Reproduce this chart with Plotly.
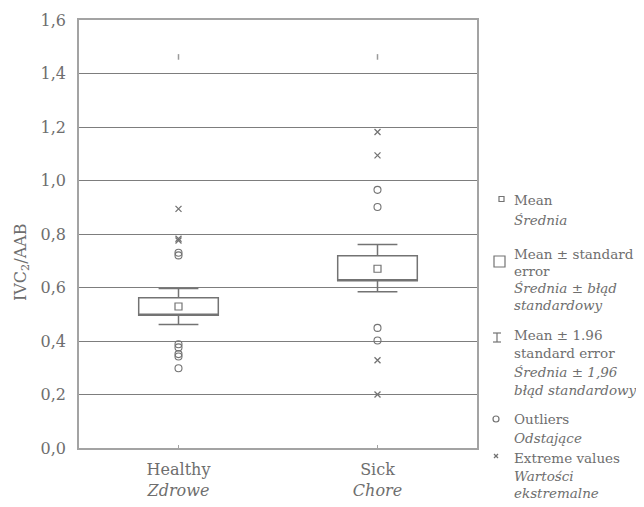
import plotly.graph_objects as go

# ---------------- data ----------------
categories = ["Healthy", "Sick"]
category_labels = ["Healthy<br><i>Zdrowe</i>", "Sick<br><i>Chore</i>"]

means = [0.529, 0.670]
se_low = [0.496, 0.625]
se_high = [0.562, 0.719]
ci_low = [0.462, 0.584]
ci_high = [0.596, 0.761]

outliers_healthy = [0.730, 0.720, 0.388, 0.376, 0.351, 0.342, 0.298]
outliers_sick = [0.965, 0.901, 0.449, 0.402]
extremes_healthy = [0.894, 0.782, 0.776]
extremes_sick = [1.181, 1.094, 0.328, 0.200]
top_marks = [1.462, 1.462]

ytick_vals = [0.0, 0.2, 0.4, 0.6, 0.8, 1.0, 1.2, 1.4, 1.6]
ytick_text = ["0,0", "0,2", "0,4", "0,6", "0,8", "1,0", "1,2", "1,4", "1,6"]

legend_lines = [
    [("Mean", 200), ("<i>Średnia</i>", 220)],
    [("Mean ± standard", 254), ("error", 271), ("<i>Średnia ± błąd</i>", 288), ("<i>standardowy</i>", 305)],
    [("Mean ± 1.96", 335), ("standard error", 353), ("<i>Średnia ± 1,96</i>", 372), ("<i>błąd standardowy</i>", 390)],
    [("Outliers", 419), ("<i>Odstające</i>", 438)],
    [("Extreme values", 458), ("<i>Wartości</i>", 476), ("<i>ekstremalne</i>", 493)],
]

# ---------------- style ----------------
FONT = "DejaVu Serif"
TXT = "#6e6e6e"
MK = "#737373"
GRID = "#7d7d7d"
AXL = "#a3a3a3"

# page has an 8px body margin, so the figure is sized to fit the window
PAGE_OFF = 8
W, H = 644 - PAGE_OFF, 507 - PAGE_OFF
# plot area in window pixels
PX_L, PX_R, PX_T, PX_B = 79, 477, 20, 448


def px(x):
    return (x - PX_L) / (PX_R - PX_L)


def py(y):
    return (PX_B - y) / (PX_B - PX_T)


fig = go.Figure()

for i, cat in enumerate(categories):
    fig.add_trace(go.Box(
        x=[cat], q1=[se_low[i]], median=[se_low[i]], q3=[se_high[i]],
        lowerfence=[ci_low[i]], upperfence=[ci_high[i]],
        width=0.4, whiskerwidth=0.5, boxpoints=False,
        fillcolor="white", line=dict(color=MK, width=1.5),
        showlegend=False, hoverinfo="skip",
    ))

fig.add_trace(go.Scatter(
    x=categories, y=means, mode="markers",
    marker=dict(symbol="square-open", size=7, color=MK, line=dict(width=1.2, color=MK)),
    showlegend=False,
))

fig.add_trace(go.Scatter(
    x=[categories[0]] * len(outliers_healthy) + [categories[1]] * len(outliers_sick),
    y=outliers_healthy + outliers_sick, mode="markers",
    marker=dict(symbol="circle-open", size=7, color=MK, line=dict(width=1.1, color=MK)),
    showlegend=False,
))

fig.add_trace(go.Scatter(
    x=[categories[0]] * len(extremes_healthy) + [categories[1]] * len(extremes_sick),
    y=extremes_healthy + extremes_sick, mode="markers",
    marker=dict(symbol="x-thin-open", size=6, color=MK, line=dict(width=1.3, color=MK)),
    showlegend=False,
))

fig.add_trace(go.Scatter(
    x=categories, y=top_marks, mode="markers",
    marker=dict(symbol="line-ns-open", size=4, color="#9a9a9a", line=dict(width=1.5, color="#9a9a9a")),
    showlegend=False,
))

# ---------------- legend (drawn manually) ----------------
shapes = []
lc = dict(color=MK, width=1.2)
# mean square
shapes.append(dict(type="rect", xref="paper", yref="paper",
                   x0=px(499), x1=px(504), y0=py(201.5), y1=py(196.5), line=lc))
# SE box
shapes.append(dict(type="rect", xref="paper", yref="paper",
                   x0=px(494), x1=px(505), y0=py(267), y1=py(256), line=lc))
# I-beam
shapes.append(dict(type="line", xref="paper", yref="paper",
                   x0=px(493), x1=px(501), y0=py(333), y1=py(333), line=lc))
shapes.append(dict(type="line", xref="paper", yref="paper",
                   x0=px(493), x1=px(501), y0=py(342), y1=py(342), line=lc))
shapes.append(dict(type="line", xref="paper", yref="paper",
                   x0=px(497), x1=px(497), y0=py(333), y1=py(342), line=lc))
# circle
shapes.append(dict(type="circle", xref="paper", yref="paper",
                   x0=px(493), x1=px(499), y0=py(422), y1=py(416), line=lc))
# x
shapes.append(dict(type="line", xref="paper", yref="paper",
                   x0=px(494), x1=px(498), y0=py(454), y1=py(458), line=lc))
shapes.append(dict(type="line", xref="paper", yref="paper",
                   x0=px(494), x1=px(498), y0=py(458), y1=py(454), line=lc))

annotations = []
for item in legend_lines:
    for text, yc in item:
        annotations.append(dict(
            text=text, xref="paper", yref="paper", x=px(512), y=py(yc),
            xanchor="left", yanchor="middle", showarrow=False,
            font=dict(family=FONT, size=13.5, color=TXT),
        ))

annotations.append(dict(
    text="IVC<sub>2</sub>/AAB", xref="paper", yref="paper", x=px(21), y=py(262),
    xanchor="center", yanchor="middle", showarrow=False, textangle=-90,
    font=dict(family=FONT, size=16, color=TXT),
))

fig.update_layout(
    width=W, height=H,
    margin=dict(l=PX_L - PAGE_OFF, r=644 - PX_R, t=PX_T - PAGE_OFF, b=507 - PX_B),
    paper_bgcolor="white", plot_bgcolor="white",
    font=dict(family=FONT, size=16, color=TXT),
    shapes=shapes, annotations=annotations,
    showlegend=False,
)

fig.update_xaxes(
    type="category", categoryorder="array", categoryarray=categories,
    range=[-0.5, 1.5], tickvals=categories, ticktext=category_labels,
    showgrid=False, zeroline=False, automargin=False,
    showline=True, mirror=True, linecolor=AXL, linewidth=1.5,
    ticks="inside", ticklen=3, tickcolor=AXL, tickwidth=1,
    tickfont=dict(family=FONT, size=16, color=TXT), ticklabelstandoff=6,
)
fig.update_yaxes(
    range=[0, 1.6], tickvals=ytick_vals, ticktext=ytick_text,
    showgrid=True, gridcolor=GRID, gridwidth=1, zeroline=False, automargin=False,
    showline=True, mirror=True, linecolor=AXL, linewidth=1.5,
    ticks="", tickfont=dict(family=FONT, size=16, color=TXT), ticklabelstandoff=8,
)

fig.write_html("out.html")
